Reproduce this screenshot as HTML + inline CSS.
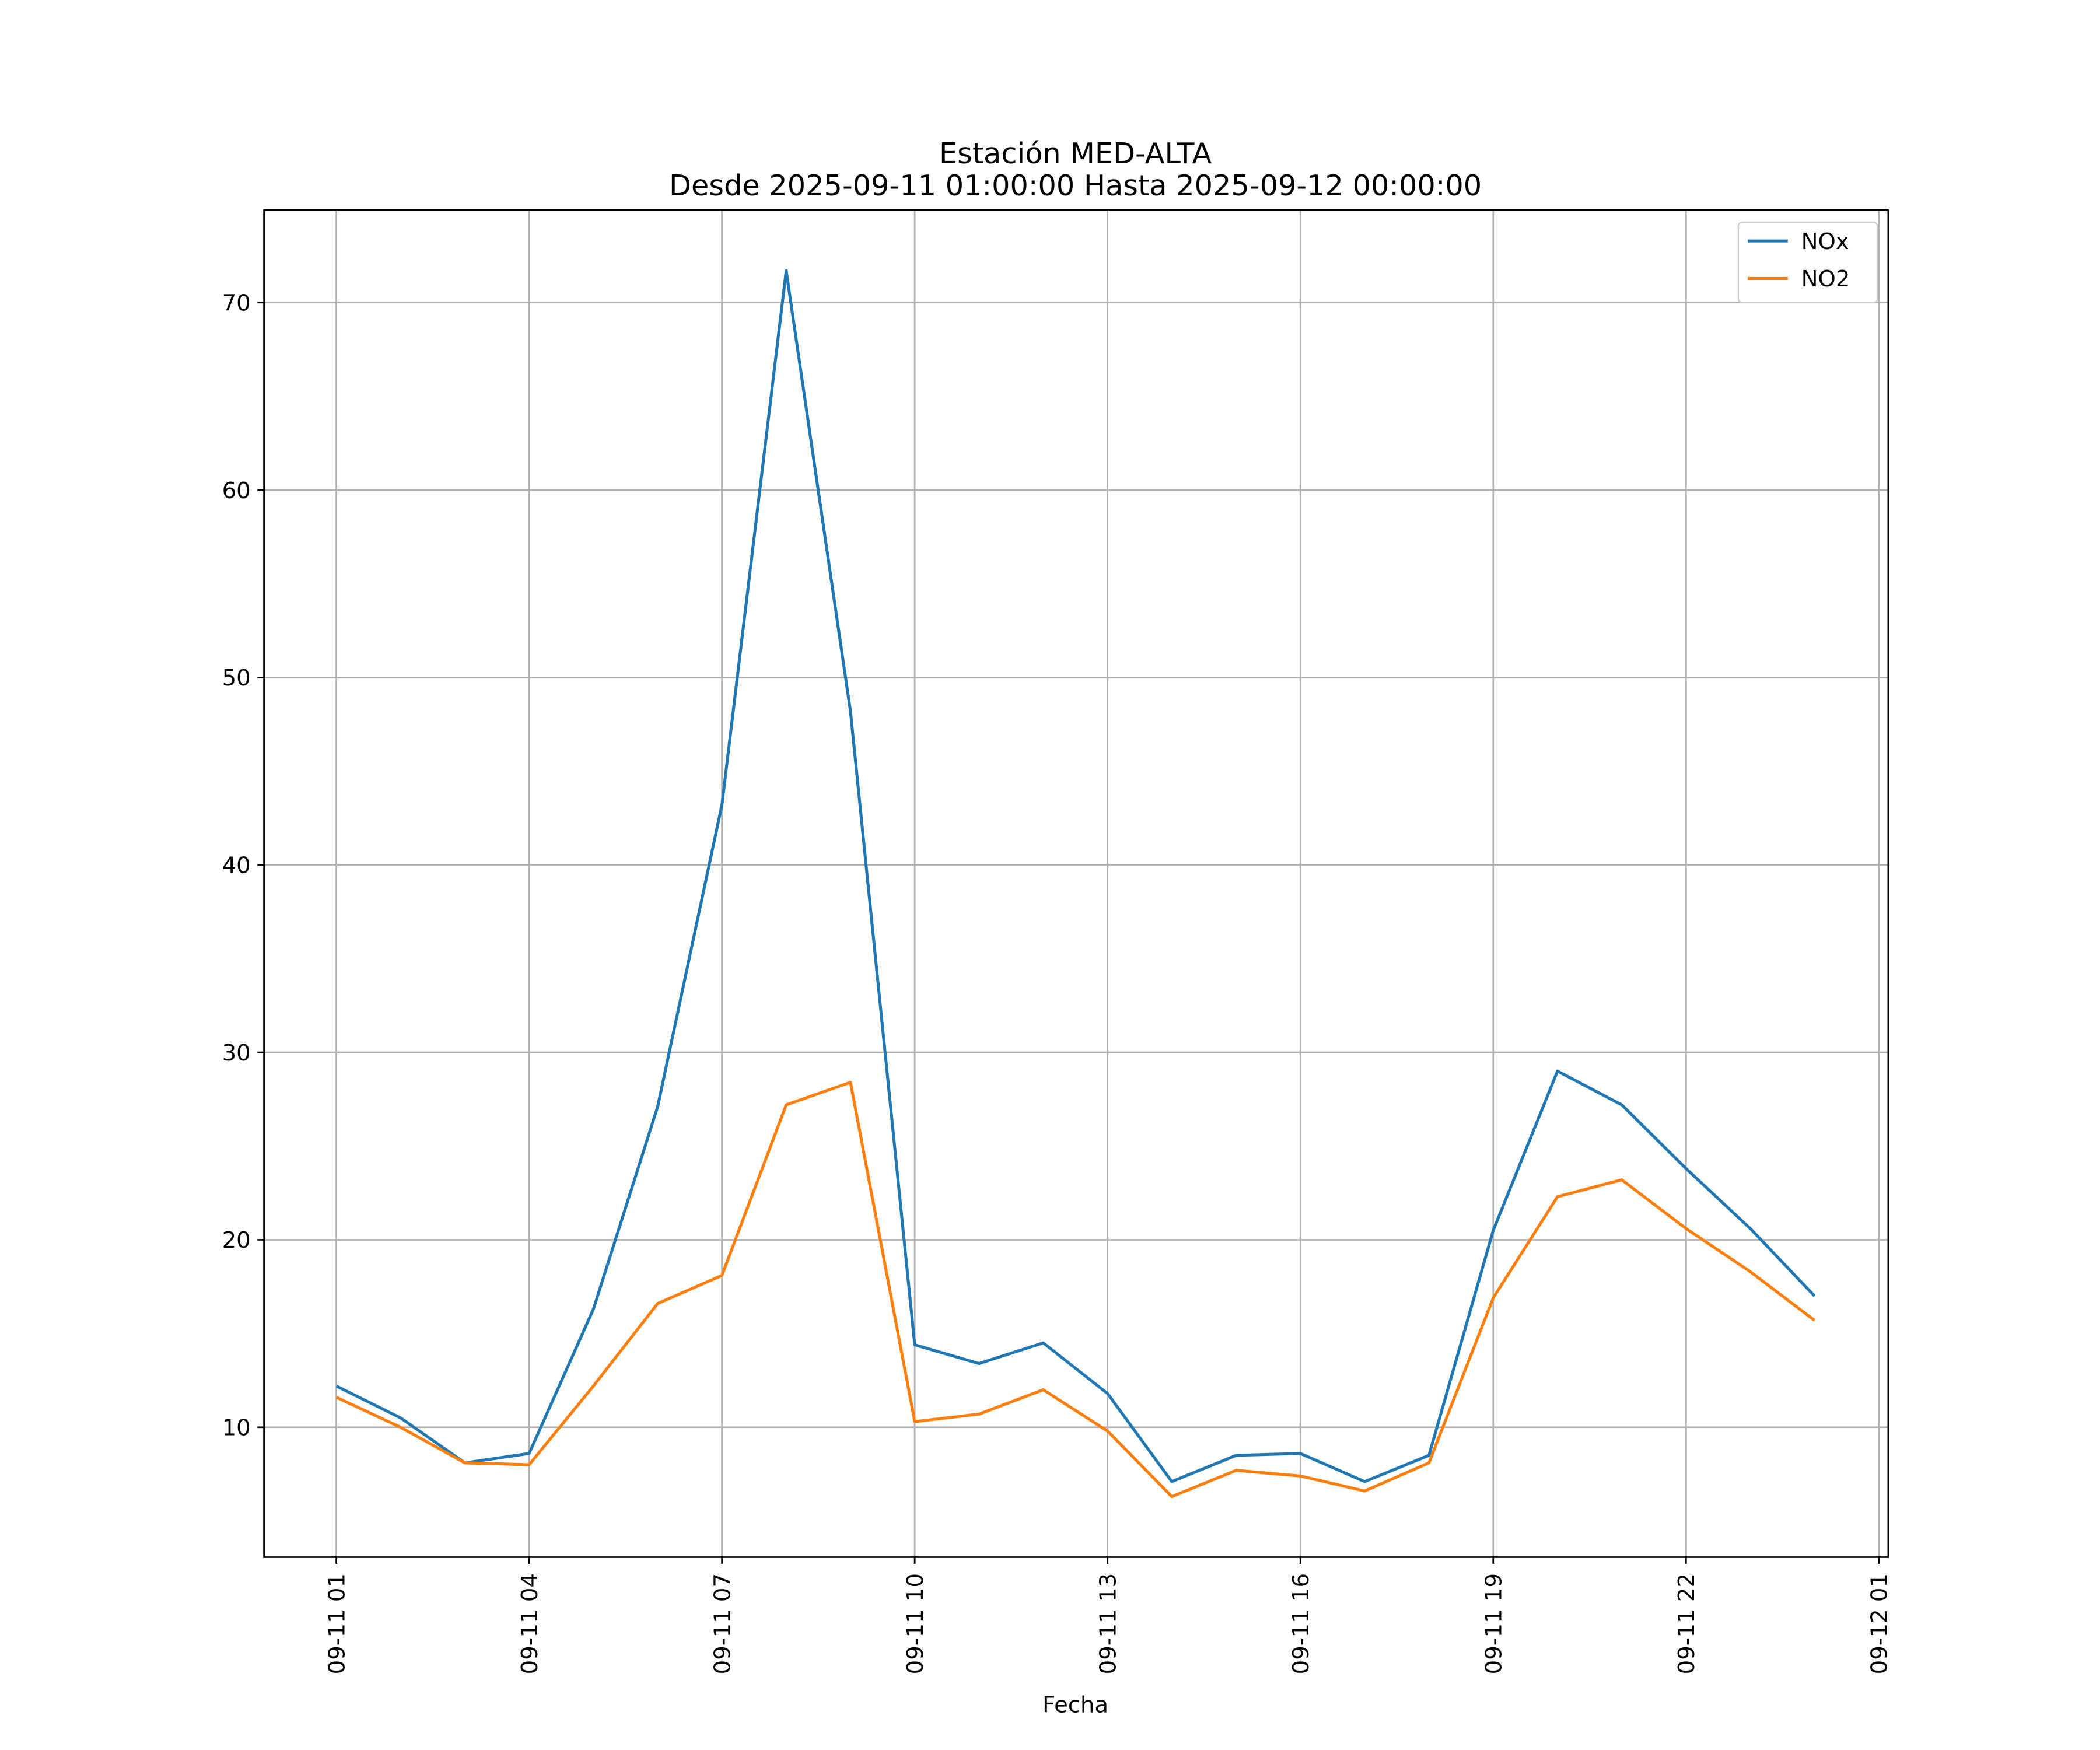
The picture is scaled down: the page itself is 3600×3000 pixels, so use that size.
<!DOCTYPE html>
<html><head><meta charset="utf-8"><style>
html,body{margin:0;padding:0;background:#fff;}
svg{display:block;}
text{font-family:"DejaVu Sans","Liberation Sans",sans-serif;}
</style></head><body>
<svg id="chart" width="3600" height="3000" viewBox="0 0 1568 1307" xmlns="http://www.w3.org/2000/svg">
<rect width="1568" height="1307" fill="#fff"/>
<text x="803" y="122" text-anchor="middle" font-size="21.5">Estación MED-ALTA</text>
<text x="803" y="146" text-anchor="middle" font-size="21.5">Desde 2025-09-11 01:00:00 Hasta 2025-09-12 00:00:00</text>
<g id="grid"></g>
<g id="series"></g>
<rect x="197" y="157" width="1213" height="1006" fill="none" stroke="#000" stroke-width="1.2"/>
<g id="axes"></g>
<text x="803" y="1279" text-anchor="middle" font-size="16.8">Fecha</text>
<g>
<rect x="1298" y="166" width="104" height="60" rx="3" fill="#fff" stroke="#ccc" stroke-width="1"/>
<line x1="1305" y1="180" x2="1335" y2="180" stroke="#1f77b4" stroke-width="2.2"/>
<text x="1345" y="186" font-size="16.8">NOx</text>
<line x1="1305" y1="208" x2="1335" y2="208" stroke="#ff7f0e" stroke-width="2.2"/>
<text x="1345" y="214" font-size="16.8">NO2</text>
</g>
</svg>
<script>
const hours = [0,1,2,3,4,5,6,7,8,9,10,11,12,13,14,15,16,17,18,19,20,21,22,23];
const noxValues = [12.2,10.5,8.1,8.6,16.3,27.1,43.2,71.7,48.2,14.4,13.4,14.5,11.8,7.1,8.5,8.6,7.1,8.5,20.5,29.0,27.2,23.8,20.6,17.0];
const no2Values = [11.6,10.0,8.1,8.0,12.2,16.6,18.1,27.2,28.4,10.3,10.7,12.0,9.8,6.3,7.7,7.4,6.6,8.1,16.9,22.3,23.2,20.6,18.3,15.7];
const yTicks = [10,20,30,40,50,60,70];
const xTickHours = [0,3,6,9,12,15,18,21,24];
const xTickLabels = ["09-11 01","09-11 04","09-11 07","09-11 10","09-11 13","09-11 16","09-11 19","09-11 22","09-12 01"];
const yMin = 3.07, yMax = 74.93;
const xMin = -1.125, xMax = 24.146;
const L=197,R=1410,T=157,B=1163;
const xs = h => L + (h - xMin)/(xMax - xMin)*(R-L);
const ys = v => B - (v - yMin)/(yMax - yMin)*(B-T);
const NS="http://www.w3.org/2000/svg";
function mk(tag, attrs, parent){const e=document.createElementNS(NS,tag);for(const k in attrs)e.setAttribute(k,attrs[k]);parent.appendChild(e);return e;}
const grid=document.getElementById('grid'), axes=document.getElementById('axes'), series=document.getElementById('series');
yTicks.forEach(v=>{
  const y=ys(v);
  const g=mk('line',{x1:L,x2:R,y1:y,y2:y,stroke:'#b0b0b0','stroke-width':1.2},grid);
  
  
  const t=mk('line',{x1:L-5,x2:L,y1:y,y2:y,stroke:'#000','stroke-width':1.2},axes);
  
  
  const lb=mk('text',{x:L-10,y:y+6,'text-anchor':'end','font-size':16.8},axes);
  lb.textContent=v;
  
  
});
xTickHours.forEach((h,i)=>{
  const x=xs(h);
  const g=mk('line',{x1:x,x2:x,y1:T,y2:B,stroke:'#b0b0b0','stroke-width':1.2},grid);
  
  
  const t=mk('line',{x1:x,x2:x,y1:B,y2:B+5,stroke:'#000','stroke-width':1.2},axes);
  
  
  const lb=mk('text',{x:0,y:0,'text-anchor':'end','font-size':16.8,transform:`translate(${x+6},${B+12}) rotate(-90)`},axes);
  lb.textContent=xTickLabels[i];
  
  
});
function line(vals,color,name){
  const pts=vals.map((v,i)=>xs(hours[i]).toFixed(2)+','+ys(v).toFixed(2)).join(' ');
  const p=mk('polyline',{points:pts,fill:'none',stroke:color,'stroke-width':2.2,'stroke-linejoin':'round'},series);
  
  
}
line(noxValues,'#1f77b4','nox-line');
line(no2Values,'#ff7f0e','no2-line');
</script>
</body></html>
